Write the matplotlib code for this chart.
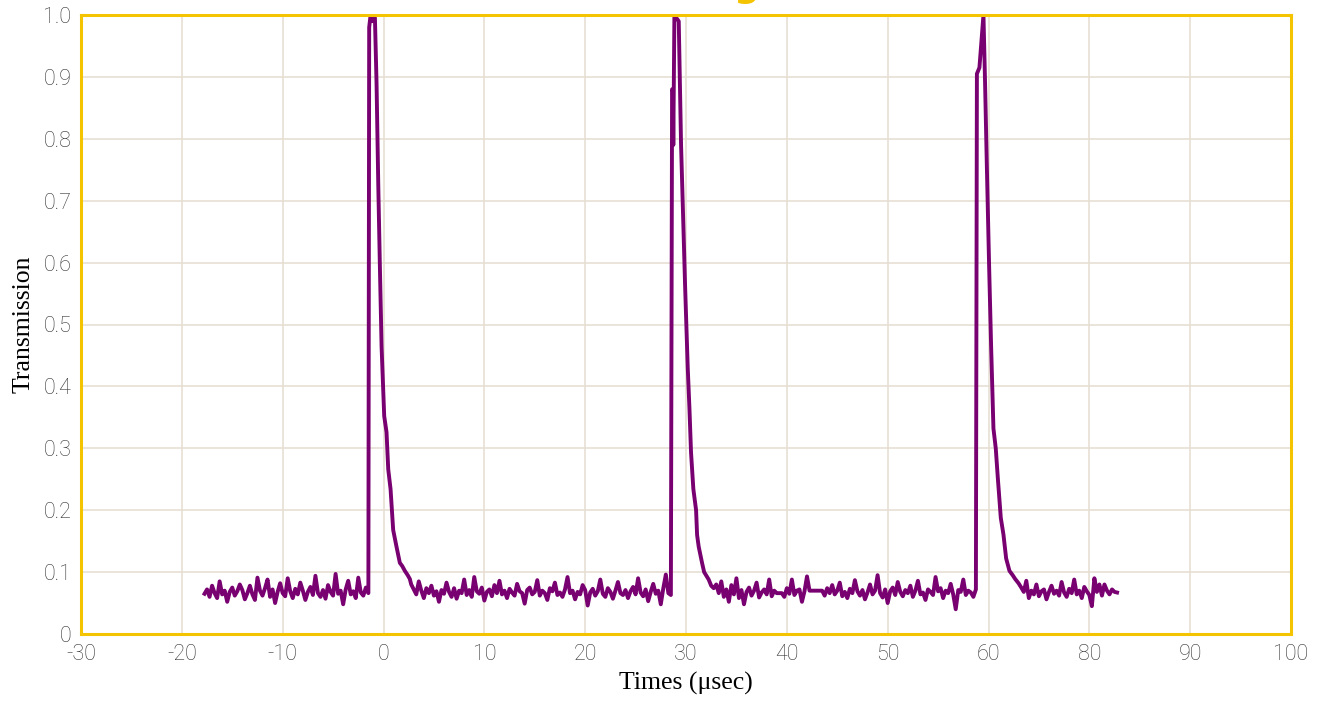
import numpy as np
import matplotlib
matplotlib.use("Agg")
import matplotlib.pyplot as plt

# baseline noise, sampled every 0.25 usec, one list per flat stretch
step = 0.25
seg_starts = [-17.75, 2.75, 32.5, 63.25]
seg1 = [0.065, 0.072, 0.060, 0.078, 0.066, 0.058, 0.085, 0.064, 0.070, 0.052,
        0.068, 0.075, 0.062, 0.069, 0.080, 0.071, 0.056, 0.066, 0.078, 0.064,
        0.055, 0.091, 0.070, 0.062, 0.074, 0.088, 0.060, 0.072, 0.050, 0.068,
        0.082, 0.066, 0.061, 0.090, 0.069, 0.058, 0.073, 0.064, 0.083, 0.070,
        0.055, 0.068, 0.076, 0.063, 0.094, 0.066, 0.060, 0.071, 0.057, 0.079,
        0.068, 0.062, 0.097, 0.065, 0.070, 0.048, 0.072, 0.086, 0.064, 0.069,
        0.058, 0.091, 0.067, 0.062, 0.075, 0.066]
seg2 = [0.080, 0.072, 0.064, 0.085, 0.070, 0.058, 0.074, 0.066, 0.078, 0.062,
        0.069, 0.052, 0.071, 0.065, 0.083, 0.068, 0.060, 0.074, 0.057, 0.070,
        0.066, 0.088, 0.063, 0.071, 0.060, 0.092, 0.069, 0.065, 0.075, 0.054,
        0.068, 0.072, 0.061, 0.079, 0.066, 0.086, 0.064, 0.070, 0.058, 0.073,
        0.067, 0.062, 0.081, 0.069, 0.066, 0.049, 0.071, 0.075, 0.064, 0.068,
        0.087, 0.062, 0.070, 0.066, 0.055, 0.074, 0.069, 0.083, 0.063, 0.067,
        0.060, 0.072, 0.092, 0.066, 0.070, 0.056, 0.068, 0.064, 0.079, 0.071,
        0.046, 0.067, 0.073, 0.062, 0.069, 0.088, 0.065, 0.060, 0.074, 0.068,
        0.057, 0.070, 0.084, 0.066, 0.063, 0.071, 0.058, 0.069, 0.076, 0.064,
        0.090, 0.067, 0.061, 0.072, 0.053, 0.068, 0.081, 0.065, 0.070, 0.048,
        0.074, 0.096, 0.066, 0.063]
seg3 = [0.078, 0.074, 0.080, 0.066, 0.085, 0.060, 0.072, 0.052, 0.079, 0.064,
        0.090, 0.058, 0.071, 0.048, 0.068, 0.075, 0.062, 0.070, 0.083, 0.059,
        0.067, 0.072, 0.064, 0.088, 0.061, 0.070, 0.066, 0.066, 0.066, 0.060,
        0.074, 0.065, 0.088, 0.063, 0.070, 0.072, 0.052, 0.069, 0.093, 0.070,
        0.070, 0.070, 0.070, 0.070, 0.070, 0.062, 0.074, 0.066, 0.079, 0.064,
        0.070, 0.083, 0.061, 0.068, 0.058, 0.073, 0.066, 0.087, 0.069, 0.062,
        0.071, 0.056, 0.067, 0.080, 0.064, 0.070, 0.095, 0.066, 0.059, 0.072,
        0.050, 0.069, 0.075, 0.063, 0.084, 0.068, 0.061, 0.071, 0.066, 0.078,
        0.060, 0.070, 0.086, 0.064, 0.067, 0.055, 0.072, 0.068, 0.063, 0.092,
        0.069, 0.074, 0.058, 0.070, 0.066, 0.081, 0.064, 0.040, 0.071, 0.068,
        0.088, 0.063, 0.070, 0.067, 0.060, 0.072]
seg4 = [0.075, 0.068, 0.086, 0.058, 0.070, 0.064, 0.080, 0.061, 0.069, 0.072,
        0.056, 0.068, 0.078, 0.065, 0.070, 0.062, 0.084, 0.067, 0.060, 0.073,
        0.066, 0.088, 0.064, 0.070, 0.058, 0.076, 0.069, 0.063, 0.045, 0.090,
        0.068, 0.080, 0.062, 0.080, 0.070, 0.064, 0.072, 0.068, 0.067]

# the three transmission pulses (time, value)
peak1_t = [-1.42, -1.28, -1.10, -0.95, -0.85, -0.69, -0.52, -0.36, -0.19, 0.07,
           0.30, 0.47, 0.70, 0.96, 1.29, 1.62, 1.85, 2.12, 2.40, 2.61]
peak1_v = [0.98, 1.0, 0.99, 1.0, 0.995, 0.89, 0.727, 0.595, 0.464, 0.352,
           0.326, 0.266, 0.234, 0.168, 0.141, 0.115, 0.110, 0.102, 0.095, 0.089]
peak2_t = [28.62, 28.70, 28.74, 28.85, 29.05, 29.28, 29.51, 29.68, 29.91, 30.17,
           30.34, 30.50, 30.73, 31.00, 31.10, 31.26, 31.59, 31.80, 31.99, 32.25]
peak2_v = [0.88, 0.878, 0.79, 1.0, 0.995, 0.99, 0.79, 0.694, 0.5625, 0.431,
           0.365, 0.293, 0.234, 0.200, 0.160, 0.141, 0.115, 0.100, 0.095, 0.088]
peak3_t = [58.85, 59.10, 59.50, 59.66, 59.83, 60.06, 60.26, 60.49, 60.72, 60.92,
           61.22, 61.48, 61.75, 62.08, 62.40, 62.64, 62.98]
peak3_v = [0.905, 0.915, 1.0, 0.89, 0.76, 0.595, 0.464, 0.332, 0.30, 0.253,
           0.1875, 0.161, 0.122, 0.102, 0.095, 0.089, 0.082]

x_ticks = [-30, -20, -10, 0, 10, 20, 30, 40, 50, 60, 70, 80, 90]
x_tick_labels = ["-30", "-20", "-10", "0", "10", "20", "30", "40", "50", "60", "80", "90", "100"]
y_ticks = [0, 0.1, 0.2, 0.3, 0.4, 0.5, 0.6, 0.7, 0.8, 0.9, 1.0]
y_tick_labels = ["0", "0.1", "0.2", "0.3", "0.4", "0.5", "0.6", "0.7", "0.8", "0.9", "1.0"]

# stitch everything into one trace
def seg_times(start, vals):
    return list(start + step * np.arange(len(vals)))

t = (seg_times(seg_starts[0], seg1) + peak1_t + seg_times(seg_starts[1], seg2) + peak2_t
     + seg_times(seg_starts[2], seg3) + peak3_t + seg_times(seg_starts[3], seg4))
v = seg1 + peak1_v + seg2 + peak2_v + seg3 + peak3_v + seg4

yellow = "#F5C400"
grid_col = "#E6DFD3"
tick_font = dict(family="Roboto", weight="light", size=15.5, color="#333333")

fig = plt.figure(figsize=(13.26, 7.05), dpi=100)
ax = fig.add_axes([81/1326, 71/705, 1210/1326, 619/705])

ax.plot(t, v, color="#780070", lw=2.8, zorder=3)

ax.set_xlim(-30, 90)
ax.set_ylim(0, 1.0)
ax.set_xticks(x_ticks)
ax.set_xticklabels(x_tick_labels, fontdict=tick_font)
ax.set_yticks(y_ticks)
ax.set_yticklabels(y_tick_labels, fontdict=tick_font)
ax.tick_params(length=0, pad=7)
ax.grid(True, color=grid_col, lw=1.2)
ax.set_axisbelow(True)
for s in ax.spines.values():
    s.set_color(yellow)
    s.set_linewidth(2.2)
    s.set_zorder(4)

ax.set_xlabel("Times (\u03bcsec)", family="Liberation Serif", size=18.5, labelpad=5)
ax.set_ylabel("Transmission", family="Liberation Serif", size=18.5, labelpad=6)

# title sits mostly above the canvas, only its descender shows
fig.text(760/1326, 1.004, "Pulse Timing", ha="right", va="baseline",
         color=yellow, size=26, weight="bold")

fig.savefig("out.png", dpi=100)
